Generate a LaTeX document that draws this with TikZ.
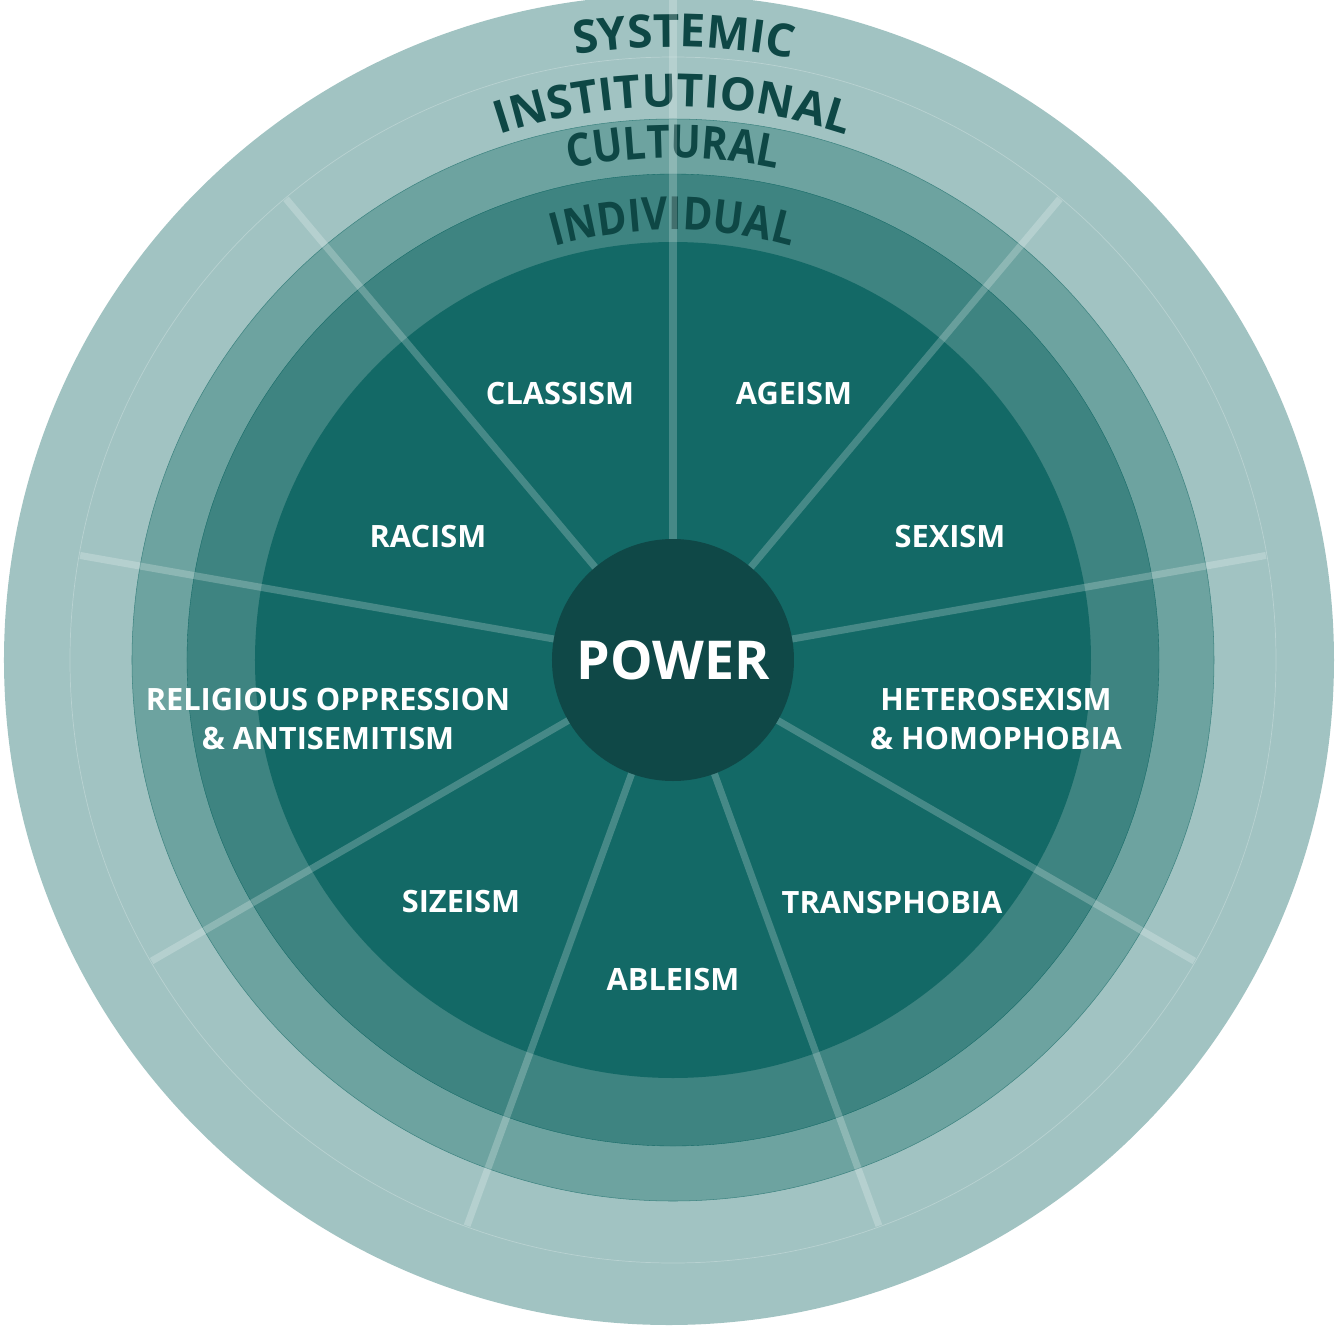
\documentclass[tikz,border=0pt]{standalone}
\usepackage{fontspec}
\setmainfont{Open Sans}
\newfontfamily\narrowfamily[FakeStretch=0.88]{Open Sans}
\usetikzlibrary{decorations.text}
\definecolor{ringouter}{HTML}{A1C3C2}
\definecolor{ringcult}{HTML}{6DA3A0}
\definecolor{ringind}{HTML}{3E8481}
\definecolor{core}{HTML}{136966}
\definecolor{powerfill}{HTML}{0F4847}
\definecolor{labeldark}{HTML}{0E4745}
\newcommand\ringfont{\fontsize{26}{30}\selectfont\bfseries\color{labeldark}}
\newcommand\narrowringfont{\narrowfamily\fontsize{26}{30}\selectfont\bfseries\color{labeldark}}
\tikzset{
    ism/.style={text=white, align=center, inner sep=0pt,
        font=\fontsize{17.5}{22.7}\selectfont\bfseries},
    spoke/.style={draw=white, draw opacity=0.22, line width=4pt},
    ringlabel/.style={decorate, decoration={text along path, text align=center, text={|\ringfont|#1}}},
    narrowlabel/.style={decorate, decoration={text along path, text align=center, text={|\narrowringfont|#1}}}
}
\begin{document}
\begin{tikzpicture}[x=0.02cm, y=0.02cm]
        \useasboundingbox (-673,-666) rectangle (663,660);
        \fill[ringouter] (-4,0) circle (665);
        \draw[white, opacity=0.25, line width=0.4pt] (0,0) circle (603);
        \filldraw[fill=ringcult, draw=ringind, line width=0.3pt] (0,0) circle (541);
        \filldraw[fill=ringind, draw=core, line width=0.2pt] (0,0) circle (486);
        \fill[core] (0,0) circle (418);
        \path[ringlabel=SYSTEMIC] (149:613) arc (149:29:613);
        \path[ringlabel=INSTITUTIONAL] (150:553) arc (150:30:553);
        \path[narrowlabel=CULTURAL] (150:502) arc (150:30:502);
        \path[narrowlabel=INDIVIDUAL] (150:430) arc (150:30:430);
        \coordinate (hub) at (0,0);
        \foreach \a [count=\i] in {90,50,10,-30,-70,-110,-150,170,130}
            \coordinate (s\i) at (\a:602);
        \coordinate (s1) at (90:662);
        \begin{scope}[every edge/.style={spoke}]
            \path
                (hub) edge (s1)
                (hub) edge (s2)
                (hub) edge (s3)
                (hub) edge (s4)
                (hub) edge (s5)
                (hub) edge (s6)
                (hub) edge (s7)
                (hub) edge (s8)
                (hub) edge (s9);
        \end{scope}
        \node[circle, fill=powerfill, minimum size=242*0.02cm, inner sep=0pt, text=white,
            font=\fontsize{30.5}{36}\selectfont\bfseries] (power) at (hub) {POWER};
        \begin{scope}[every node/.style={ism}]
            \node (classism)  at (-113,266) {CLASSISM};
            \node (ageism)    at (121,266)  {AGEISM};
            \node (racism)    at (-245,123) {RACISM};
            \node (sexism)    at (277,123)  {SEXISM};
            \node (religious) at (-345,-59) {RELIGIOUS OPPRESSION\\\& ANTISEMITISM};
            \node (hetero)    at (323,-59)  {HETEROSEXISM\\\& HOMOPHOBIA};
            \node (sizeism)   at (-212,-242) {SIZEISM};
            \node (trans)     at (219,-242) {TRANSPHOBIA};
            \node (ableism)   at (0,-320)   {ABLEISM};
        \end{scope}
    \end{tikzpicture}
\end{document}
